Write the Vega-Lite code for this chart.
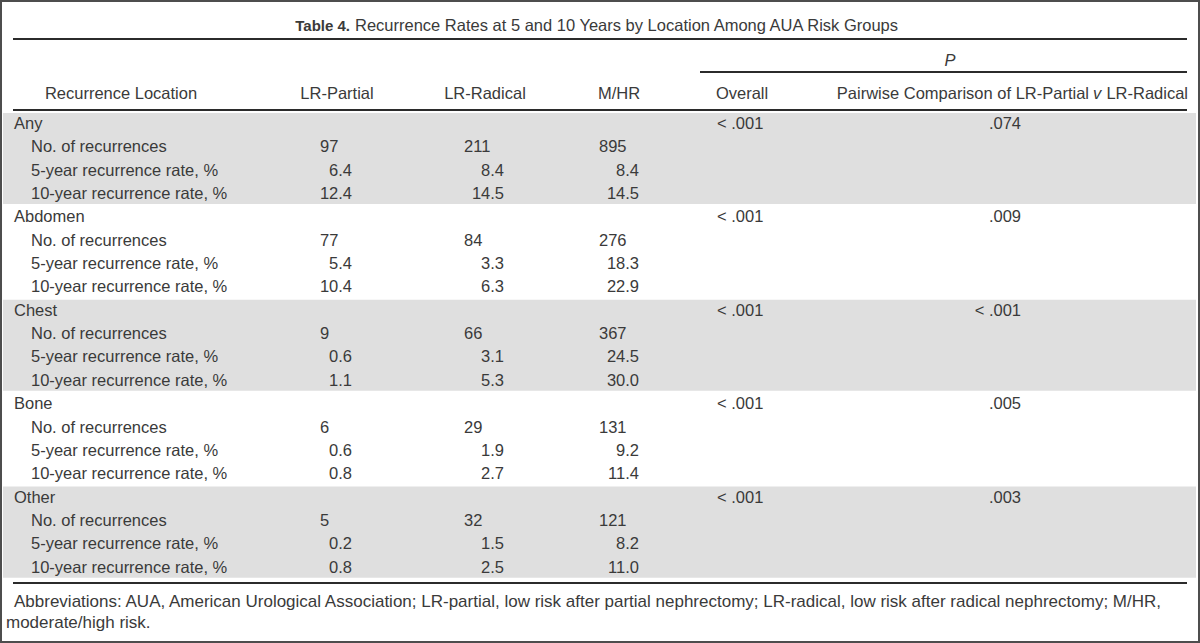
{
  "$schema": "https://vega.github.io/schema/vega-lite/v6.json",
  "width": 1200,
  "height": 643,
  "padding": 0,
  "autosize": {"type": "fit", "contains": "padding"},
  "background": "white",
  "config": {
    "view": {"stroke": "#4d4d4d", "strokeWidth": 4},
    "text": {"font": "Liberation Sans", "fontSize": 16.5, "fill": "#3a3a3a", "baseline": "middle"},
    "rule": {"stroke": "#2b2b2b", "strokeWidth": 2}
  },
  "datasets": {
    "rows": [
      {"row": 0, "label": "Any", "kind": "group", "overall": "< .001", "pairwise": ".074"},
      {"row": 1, "label": "No. of recurrences", "kind": "count", "partial": 97, "radical": 211, "mhr": 895},
      {"row": 2, "label": "5-year recurrence rate, %", "kind": "rate", "partial": 6.4, "radical": 8.4, "mhr": 8.4},
      {"row": 3, "label": "10-year recurrence rate, %", "kind": "rate", "partial": 12.4, "radical": 14.5, "mhr": 14.5},
      {"row": 4, "label": "Abdomen", "kind": "group", "overall": "< .001", "pairwise": ".009"},
      {"row": 5, "label": "No. of recurrences", "kind": "count", "partial": 77, "radical": 84, "mhr": 276},
      {"row": 6, "label": "5-year recurrence rate, %", "kind": "rate", "partial": 5.4, "radical": 3.3, "mhr": 18.3},
      {"row": 7, "label": "10-year recurrence rate, %", "kind": "rate", "partial": 10.4, "radical": 6.3, "mhr": 22.9},
      {"row": 8, "label": "Chest", "kind": "group", "overall": "< .001", "pairwise": "< .001"},
      {"row": 9, "label": "No. of recurrences", "kind": "count", "partial": 9, "radical": 66, "mhr": 367},
      {"row": 10, "label": "5-year recurrence rate, %", "kind": "rate", "partial": 0.6, "radical": 3.1, "mhr": 24.5},
      {"row": 11, "label": "10-year recurrence rate, %", "kind": "rate", "partial": 1.1, "radical": 5.3, "mhr": 30.0},
      {"row": 12, "label": "Bone", "kind": "group", "overall": "< .001", "pairwise": ".005"},
      {"row": 13, "label": "No. of recurrences", "kind": "count", "partial": 6, "radical": 29, "mhr": 131},
      {"row": 14, "label": "5-year recurrence rate, %", "kind": "rate", "partial": 0.6, "radical": 1.9, "mhr": 9.2},
      {"row": 15, "label": "10-year recurrence rate, %", "kind": "rate", "partial": 0.8, "radical": 2.7, "mhr": 11.4},
      {"row": 16, "label": "Other", "kind": "group", "overall": "< .001", "pairwise": ".003"},
      {"row": 17, "label": "No. of recurrences", "kind": "count", "partial": 5, "radical": 32, "mhr": 121},
      {"row": 18, "label": "5-year recurrence rate, %", "kind": "rate", "partial": 0.2, "radical": 1.5, "mhr": 8.2},
      {"row": 19, "label": "10-year recurrence rate, %", "kind": "rate", "partial": 0.8, "radical": 2.5, "mhr": 11.0}
    ],
    "groups": [
      {"group": "Any", "first": 0, "last": 3},
      {"group": "Chest", "first": 8, "last": 11},
      {"group": "Other", "first": 16, "last": 19}
    ]
  },
  "layer": [
    {
      "data": {"name": "groups"},
      "mark": {"type": "rect", "fill": "#dfdfdf", "yOffset": -11, "y2Offset": 10},
      "encoding": {
        "x": {"datum": 3, "type": "quantitative", "scale": {"domain": [0, 1200], "nice": false, "zero": false}, "axis": null},
        "x2": {"datum": 1196},
        "y": {"field": "first", "type": "quantitative", "scale": {"domain": [-5.3105, 22.227], "nice": false, "zero": false, "reverse": true}, "axis": null},
        "y2": {"field": "last"}
      }
    },
    {
      "data": {"values": [{}]},
      "mark": "rule",
      "encoding": {
        "x": {"datum": 13, "type": "quantitative", "scale": {"domain": [0, 1200], "nice": false, "zero": false}, "axis": null},
        "x2": {"datum": 1187},
        "y": {"datum": -3.64, "type": "quantitative", "scale": {"domain": [-5.3105, 22.227], "nice": false, "zero": false, "reverse": true}, "axis": null}
      }
    },
    {
      "data": {"values": [{}]},
      "mark": "rule",
      "encoding": {
        "x": {"datum": 700, "type": "quantitative", "scale": {"domain": [0, 1200], "nice": false, "zero": false}, "axis": null},
        "x2": {"datum": 1187},
        "y": {"datum": -2.227, "type": "quantitative", "scale": {"domain": [-5.3105, 22.227], "nice": false, "zero": false, "reverse": true}, "axis": null}
      }
    },
    {
      "data": {"values": [{}]},
      "mark": "rule",
      "encoding": {
        "x": {"datum": 13, "type": "quantitative", "scale": {"domain": [0, 1200], "nice": false, "zero": false}, "axis": null},
        "x2": {"datum": 1187},
        "y": {"datum": -0.6, "type": "quantitative", "scale": {"domain": [-5.3105, 22.227], "nice": false, "zero": false, "reverse": true}, "axis": null}
      }
    },
    {
      "data": {"values": [{}]},
      "mark": "rule",
      "encoding": {
        "x": {"datum": 13, "type": "quantitative", "scale": {"domain": [0, 1200], "nice": false, "zero": false}, "axis": null},
        "x2": {"datum": 1187},
        "y": {"datum": 19.657, "type": "quantitative", "scale": {"domain": [-5.3105, 22.227], "nice": false, "zero": false, "reverse": true}, "axis": null}
      }
    },
    {
      "data": {"values": [{"t": "Table 4."}]},
      "mark": {"type": "text", "align": "right", "fontWeight": "bold", "fontSize": 15},
      "encoding": {
        "x": {"datum": 350, "type": "quantitative", "scale": {"domain": [0, 1200], "nice": false, "zero": false}, "axis": null},
        "y": {"datum": -4.197, "type": "quantitative", "scale": {"domain": [-5.3105, 22.227], "nice": false, "zero": false, "reverse": true}, "axis": null},
        "text": {"field": "t"}
      }
    },
    {
      "data": {"values": [{"t": "Recurrence Rates at 5 and 10 Years by Location Among AUA Risk Groups"}]},
      "mark": {"type": "text", "align": "left"},
      "encoding": {
        "x": {"datum": 355, "type": "quantitative", "scale": {"domain": [0, 1200], "nice": false, "zero": false}, "axis": null},
        "y": {"datum": -4.197, "type": "quantitative", "scale": {"domain": [-5.3105, 22.227], "nice": false, "zero": false, "reverse": true}, "axis": null},
        "text": {"field": "t"}
      }
    },
    {
      "data": {"values": [{"t": "P"}]},
      "mark": {"type": "text", "align": "center", "fontStyle": "italic"},
      "encoding": {
        "x": {"datum": 950, "type": "quantitative", "scale": {"domain": [0, 1200], "nice": false, "zero": false}, "axis": null},
        "y": {"datum": -2.698, "type": "quantitative", "scale": {"domain": [-5.3105, 22.227], "nice": false, "zero": false, "reverse": true}, "axis": null},
        "text": {"field": "t"}
      }
    },
    {
      "data": {"values": [
        {"t": "Recurrence Location", "c": 121},
        {"t": "LR-Partial", "c": 337},
        {"t": "LR-Radical", "c": 485},
        {"t": "M/HR", "c": 619},
        {"t": "Overall", "c": 742}
      ]},
      "mark": {"type": "text", "align": "center"},
      "encoding": {
        "x": {"field": "c", "type": "quantitative", "scale": {"domain": [0, 1200], "nice": false, "zero": false}, "axis": null},
        "y": {"datum": -1.285, "type": "quantitative", "scale": {"domain": [-5.3105, 22.227], "nice": false, "zero": false, "reverse": true}, "axis": null},
        "text": {"field": "t"}
      }
    },
    {
      "data": {"values": [{"t": "Pairwise Comparison of LR-Partial"}]},
      "mark": {"type": "text", "align": "right"},
      "encoding": {
        "x": {"datum": 1089, "type": "quantitative", "scale": {"domain": [0, 1200], "nice": false, "zero": false}, "axis": null},
        "y": {"datum": -1.285, "type": "quantitative", "scale": {"domain": [-5.3105, 22.227], "nice": false, "zero": false, "reverse": true}, "axis": null},
        "text": {"field": "t"}
      }
    },
    {
      "data": {"values": [{"t": "v"}]},
      "mark": {"type": "text", "align": "center", "fontStyle": "italic"},
      "encoding": {
        "x": {"datum": 1097, "type": "quantitative", "scale": {"domain": [0, 1200], "nice": false, "zero": false}, "axis": null},
        "y": {"datum": -1.285, "type": "quantitative", "scale": {"domain": [-5.3105, 22.227], "nice": false, "zero": false, "reverse": true}, "axis": null},
        "text": {"field": "t"}
      }
    },
    {
      "data": {"values": [{"t": "LR-Radical"}]},
      "mark": {"type": "text", "align": "right"},
      "encoding": {
        "x": {"datum": 1188, "type": "quantitative", "scale": {"domain": [0, 1200], "nice": false, "zero": false}, "axis": null},
        "y": {"datum": -1.285, "type": "quantitative", "scale": {"domain": [-5.3105, 22.227], "nice": false, "zero": false, "reverse": true}, "axis": null},
        "text": {"field": "t"}
      }
    },
    {
      "data": {"name": "rows"},
      "transform": [{"filter": "datum.kind === 'group'"}],
      "mark": {"type": "text", "align": "left"},
      "encoding": {
        "x": {"datum": 14, "type": "quantitative", "scale": {"domain": [0, 1200], "nice": false, "zero": false}, "axis": null},
        "y": {"field": "row", "type": "quantitative", "scale": {"domain": [-5.3105, 22.227], "nice": false, "zero": false, "reverse": true}, "axis": null},
        "text": {"field": "label"}
      }
    },
    {
      "data": {"name": "rows"},
      "transform": [{"filter": "datum.kind !== 'group'"}],
      "mark": {"type": "text", "align": "left"},
      "encoding": {
        "x": {"datum": 31, "type": "quantitative", "scale": {"domain": [0, 1200], "nice": false, "zero": false}, "axis": null},
        "y": {"field": "row", "type": "quantitative", "scale": {"domain": [-5.3105, 22.227], "nice": false, "zero": false, "reverse": true}, "axis": null},
        "text": {"field": "label"}
      }
    },
    {
      "data": {"name": "rows"},
      "transform": [{"filter": "datum.kind === 'count'"}],
      "mark": {"type": "text", "align": "left"},
      "encoding": {
        "x": {"datum": 320, "type": "quantitative", "scale": {"domain": [0, 1200], "nice": false, "zero": false}, "axis": null},
        "y": {"field": "row", "type": "quantitative", "scale": {"domain": [-5.3105, 22.227], "nice": false, "zero": false, "reverse": true}, "axis": null},
        "text": {"field": "partial", "type": "quantitative", "format": "d"}
      }
    },
    {
      "data": {"name": "rows"},
      "transform": [{"filter": "datum.kind === 'count'"}],
      "mark": {"type": "text", "align": "left"},
      "encoding": {
        "x": {"datum": 464, "type": "quantitative", "scale": {"domain": [0, 1200], "nice": false, "zero": false}, "axis": null},
        "y": {"field": "row", "type": "quantitative", "scale": {"domain": [-5.3105, 22.227], "nice": false, "zero": false, "reverse": true}, "axis": null},
        "text": {"field": "radical", "type": "quantitative", "format": "d"}
      }
    },
    {
      "data": {"name": "rows"},
      "transform": [{"filter": "datum.kind === 'count'"}],
      "mark": {"type": "text", "align": "left"},
      "encoding": {
        "x": {"datum": 599, "type": "quantitative", "scale": {"domain": [0, 1200], "nice": false, "zero": false}, "axis": null},
        "y": {"field": "row", "type": "quantitative", "scale": {"domain": [-5.3105, 22.227], "nice": false, "zero": false, "reverse": true}, "axis": null},
        "text": {"field": "mhr", "type": "quantitative", "format": "d"}
      }
    },
    {
      "data": {"name": "rows"},
      "transform": [{"filter": "datum.kind === 'rate'"}],
      "mark": {"type": "text", "align": "right"},
      "encoding": {
        "x": {"datum": 352, "type": "quantitative", "scale": {"domain": [0, 1200], "nice": false, "zero": false}, "axis": null},
        "y": {"field": "row", "type": "quantitative", "scale": {"domain": [-5.3105, 22.227], "nice": false, "zero": false, "reverse": true}, "axis": null},
        "text": {"field": "partial", "type": "quantitative", "format": ".1f"}
      }
    },
    {
      "data": {"name": "rows"},
      "transform": [{"filter": "datum.kind === 'rate'"}],
      "mark": {"type": "text", "align": "right"},
      "encoding": {
        "x": {"datum": 504, "type": "quantitative", "scale": {"domain": [0, 1200], "nice": false, "zero": false}, "axis": null},
        "y": {"field": "row", "type": "quantitative", "scale": {"domain": [-5.3105, 22.227], "nice": false, "zero": false, "reverse": true}, "axis": null},
        "text": {"field": "radical", "type": "quantitative", "format": ".1f"}
      }
    },
    {
      "data": {"name": "rows"},
      "transform": [{"filter": "datum.kind === 'rate'"}],
      "mark": {"type": "text", "align": "right"},
      "encoding": {
        "x": {"datum": 639, "type": "quantitative", "scale": {"domain": [0, 1200], "nice": false, "zero": false}, "axis": null},
        "y": {"field": "row", "type": "quantitative", "scale": {"domain": [-5.3105, 22.227], "nice": false, "zero": false, "reverse": true}, "axis": null},
        "text": {"field": "mhr", "type": "quantitative", "format": ".1f"}
      }
    },
    {
      "data": {"name": "rows"},
      "transform": [{"filter": "datum.kind === 'group'"}],
      "mark": {"type": "text", "align": "left"},
      "encoding": {
        "x": {"datum": 717, "type": "quantitative", "scale": {"domain": [0, 1200], "nice": false, "zero": false}, "axis": null},
        "y": {"field": "row", "type": "quantitative", "scale": {"domain": [-5.3105, 22.227], "nice": false, "zero": false, "reverse": true}, "axis": null},
        "text": {"field": "overall"}
      }
    },
    {
      "data": {"name": "rows"},
      "transform": [{"filter": "datum.kind === 'group'"}],
      "mark": {"type": "text", "align": "right"},
      "encoding": {
        "x": {"datum": 1021, "type": "quantitative", "scale": {"domain": [0, 1200], "nice": false, "zero": false}, "axis": null},
        "y": {"field": "row", "type": "quantitative", "scale": {"domain": [-5.3105, 22.227], "nice": false, "zero": false, "reverse": true}, "axis": null},
        "text": {"field": "pairwise"}
      }
    },
    {
      "data": {"values": [{"t": "Abbreviations: AUA, American Urological Association; LR-partial, low risk after partial nephrectomy; LR-radical, low risk after radical nephrectomy; M/HR,"}]},
      "mark": {"type": "text", "align": "left", "fontSize": 17},
      "encoding": {
        "x": {"datum": 14, "type": "quantitative", "scale": {"domain": [0, 1200], "nice": false, "zero": false}, "axis": null},
        "y": {"datum": 20.471, "type": "quantitative", "scale": {"domain": [-5.3105, 22.227], "nice": false, "zero": false, "reverse": true}, "axis": null},
        "text": {"field": "t"}
      }
    },
    {
      "data": {"values": [{"t": "moderate/high risk."}]},
      "mark": {"type": "text", "align": "left", "fontSize": 17},
      "encoding": {
        "x": {"datum": 6, "type": "quantitative", "scale": {"domain": [0, 1200], "nice": false, "zero": false}, "axis": null},
        "y": {"datum": 21.37, "type": "quantitative", "scale": {"domain": [-5.3105, 22.227], "nice": false, "zero": false, "reverse": true}, "axis": null},
        "text": {"field": "t"}
      }
    }
  ]
}
